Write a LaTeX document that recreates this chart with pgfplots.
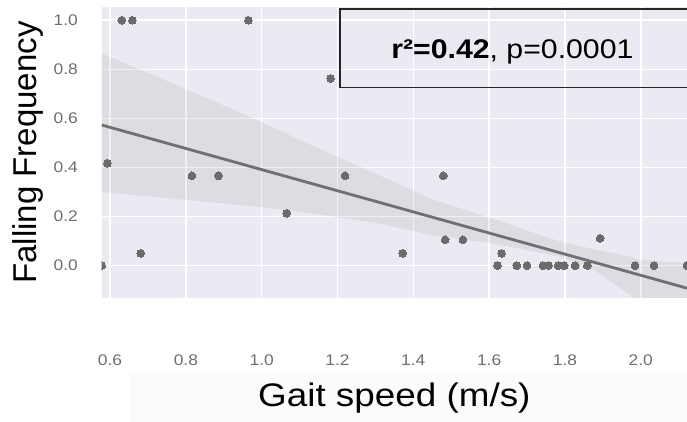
\documentclass[border=0pt]{standalone}
\usepackage{pgfplots}
\pgfplotsset{compat=1.18}
\usepackage{fontspec}
\setmainfont{Liberation Sans}
\definecolor{bgc}{HTML}{EAEAF2}
\definecolor{dotc}{HTML}{6B6B6B}
\definecolor{linec}{HTML}{707070}
\definecolor{tickc}{HTML}{6E6E6E}
\begin{document}
\begin{tikzpicture}
\path[use as bounding box] (0,0) rectangle (343.5pt,211pt);
\fill[black!1.5] (65pt,0) rectangle (343.5pt,25pt);
\begin{axis}[
 at={(50.85pt,62pt)}, anchor=south west,
 scale only axis, width=292.65pt, height=145.5pt,
 xmin=0.578, xmax=2.122, ymin=-0.132, ymax=1.054,
 clip marker paths=true,
 axis background/.style={fill=bgc},
 axis line style={draw=none},
 grid=major, grid style={white, line width=0.8pt},
 major tick length=0pt,
 xtick={0.6,0.8,1.0,1.2,1.4,1.6,1.8,2.0},
 ytick={0,0.2,0.4,0.6,0.8,1.0},
 /pgf/number format/.cd, fixed, fixed zerofill, precision=1, assume math mode=true,
 /pgfplots/.cd,
 ticklabel style={font=\fontsize{7.7}{9}\selectfont, text=tickc, xscale=1.13},
 xticklabel style={anchor=center, yshift=-31pt},
 yticklabel style={anchor=east, xshift=-7pt},
 xlabel={Gait speed (m/s)}, ylabel={Falling Frequency},
 xlabel style={font=\fontsize{16.3}{19}\selectfont, xscale=1.13, at={(axis description cs:0.5,0)}, anchor=base, yshift=-54.35pt},
 ylabel style={font=\fontsize{16.5}{19}\selectfont, at={(axis description cs:-0.126,0.5)}, anchor=center},
]
% confidence band
\addplot[fill=black, fill opacity=0.06, draw=none] coordinates {
 (0.578,0.865) (0.8,0.72) (1.0,0.585) (1.1,0.512) (1.3,0.375) (1.444,0.274) (1.603,0.194) (1.787,0.098) (1.88,0.065) (1.963,0.04) (2.0,0.023) (2.122,0.010)
 (2.122,-0.27) (2.0,-0.15) (1.963,-0.111) (1.88,-0.02) (1.787,0.037) (1.603,0.092) (1.444,0.125) (1.3,0.175) (1.1,0.220) (1.0,0.238) (0.8,0.268) (0.578,0.300)
} -- cycle;
% regression line
\addplot[line width=1.4pt, color=linec] coordinates {(0.578,0.573) (2.122,-0.092)};
% data points
\addplot[only marks, mark=*, mark size=1.95pt, color=dotc, mark options={draw=dotc, fill=dotc, line width=0pt}] coordinates {
 (0.578,0.0) (0.593,0.417) (0.631,1.0) (0.659,1.0) (0.681,0.05) (0.816,0.366) (0.886,0.366) (0.965,1.0)
 (1.066,0.213) (1.182,0.763) (1.220,0.366) (1.372,0.050) (1.479,0.366) (1.484,0.105) (1.531,0.105)
 (1.622,0.0) (1.633,0.050) (1.673,0.0) (1.700,0.0) (1.742,0.0) (1.757,0.0) (1.782,0.0) (1.798,0.0)
 (1.827,0.0) (1.859,0.0) (1.893,0.111) (1.985,0.0) (2.035,0.0) (2.122,0.0)
};
\end{axis}
\draw[line width=0.8pt, black!85] (170pt,167.15pt) rectangle (350pt,206.5pt);
\node[font=\fontsize{13.5}{16}\selectfont, xscale=1.12] at (256.2pt,185pt) {\textbf{r²=0.42}, p=0.0001};
\end{tikzpicture}
\end{document}
